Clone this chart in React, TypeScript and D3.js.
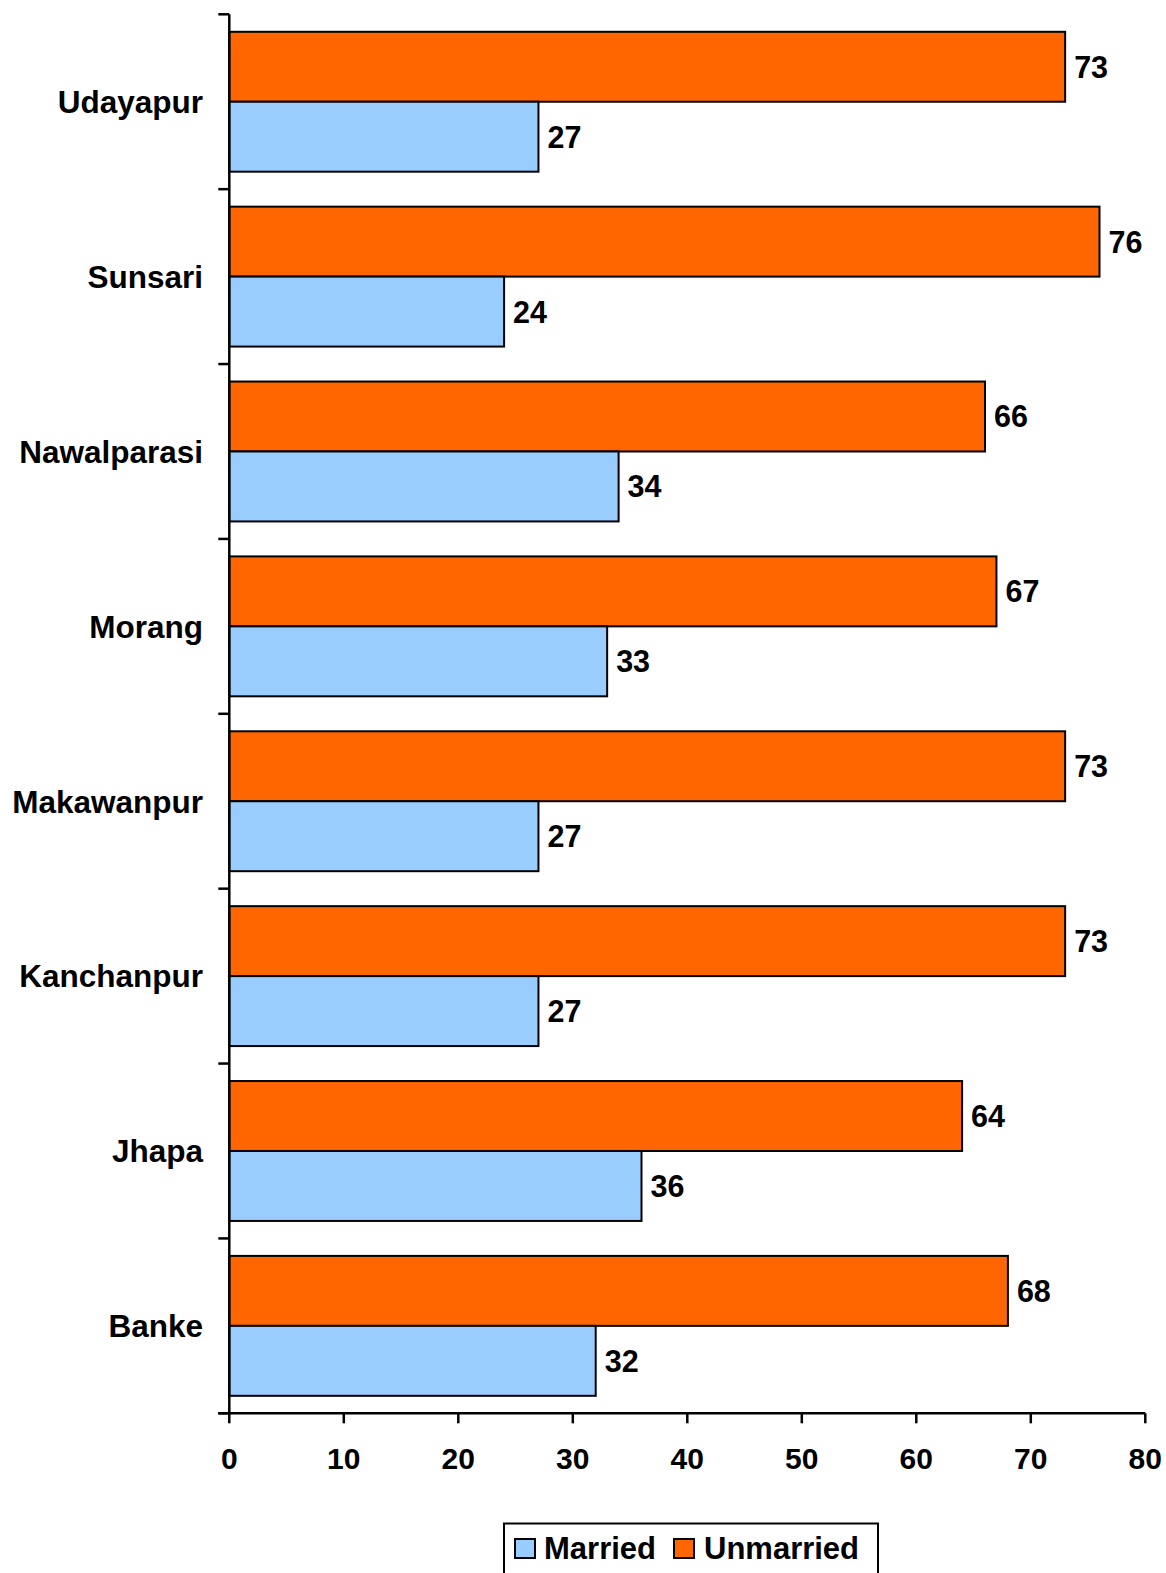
import React from "react";
import * as d3 from "d3";

const categories = ["Udayapur", "Sunsari", "Nawalparasi", "Morang", "Makawanpur", "Kanchanpur", "Jhapa", "Banke"];
const married = [27, 24, 34, 33, 27, 27, 36, 32];
const unmarried = [73, 76, 66, 67, 73, 73, 64, 68];
const seriesNames = ["Unmarried", "Married"];
const seriesColors = ["#FF6600", "#99CCFF"];
const xTicks = [0, 10, 20, 30, 40, 50, 60, 70, 80];

const W = 1166;
const H = 1573;
const left = 229.3;
const right = 1145.3;
const top = 14.3;
const bottom = 1413.3;
const FONT = "'Liberation Sans', Arial, sans-serif";

export default function App() {
  const x = d3.scaleLinear().domain([0, 80]).range([left, right]);
  const y = d3.scaleBand<string>().domain(categories).range([top, bottom]).padding(0);
  const sub = d3
    .scaleBand<string>()
    .domain(seriesNames)
    .range([0, y.step()])
    .paddingInner(0)
    .paddingOuter(0.25);
  const values: Record<string, number[]> = { Unmarried: unmarried, Married: married };

  const boundaries = categories.map((c) => y(c)!).concat([bottom]);

  return (
    <svg
      width={W}
      height={H}
      style={{ position: "absolute", left: 0, top: 0, background: "#fff" }}
      fontFamily={FONT}
      fontWeight="bold"
    >
      {/* bars */}
      {categories.map((c, i) => (
        <g key={c}>
          {seriesNames.map((s, j) => {
            const v = values[s][i];
            const by = y(c)! + sub(s)!;
            return (
              <g key={s}>
                <rect
                  x={x(0)}
                  y={by}
                  width={x(v) - x(0)}
                  height={sub.bandwidth()}
                  fill={seriesColors[j]}
                  stroke="#000"
                  strokeWidth={2}
                />
                <text
                  x={x(v) + 9}
                  y={by + sub.bandwidth() / 2}
                  dy="0.36em"
                  fontSize={30.5}
                  fill="#000"
                >
                  {v}
                </text>
              </g>
            );
          })}
          <text
            x={203}
            y={y(c)! + y.step() / 2}
            dy="0.36em"
            textAnchor="end"
            fontSize={31.5}
            fill="#000"
          >
            {c}
          </text>
        </g>
      ))}

      {/* y axis */}
      <line x1={left} x2={left} y1={top} y2={bottom} stroke="#000" strokeWidth={2.5} />
      {boundaries.map((b, i) => (
        <line key={i} x1={left - 11} x2={left} y1={b} y2={b} stroke="#000" strokeWidth={2.5} />
      ))}

      {/* x axis */}
      <line x1={left - 11} x2={right} y1={bottom} y2={bottom} stroke="#000" strokeWidth={2.5} />
      {xTicks.map((t) => (
        <g key={t}>
          <line x1={x(t)} x2={x(t)} y1={bottom} y2={bottom + 10} stroke="#000" strokeWidth={2.5} />
          <text x={x(t)} y={1469} textAnchor="middle" fontSize={30} fill="#000">
            {t}
          </text>
        </g>
      ))}

      {/* legend */}
      <rect x={504} y={1523.5} width={374} height={80} fill="#fff" stroke="#000" strokeWidth={2} />
      <rect x={515} y={1539} width={20} height={19} fill={seriesColors[1]} stroke="#000" strokeWidth={2} />
      <text x={544} fontSize={31} fill="#000">
        <tspan y={1559}>Married</tspan>
      </text>
      <rect x={674} y={1539} width={20} height={19} fill={seriesColors[0]} stroke="#000" strokeWidth={2} />
      <text x={704} fontSize={31} fill="#000">
        <tspan y={1559}>Unmarried</tspan>
      </text>
    </svg>
  );
}
